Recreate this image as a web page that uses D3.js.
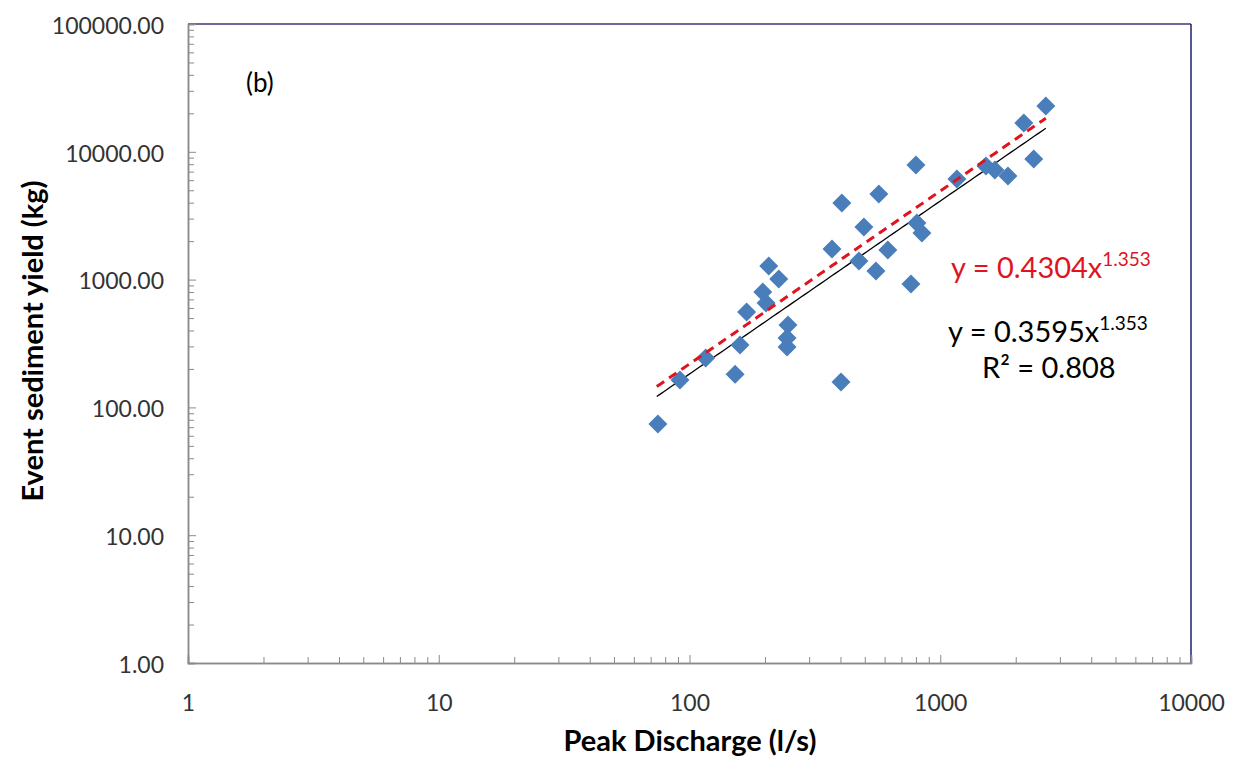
<!DOCTYPE html>
<html><head><meta charset="utf-8">
<script src="https://cdn.jsdelivr.net/npm/d3@7"></script>
<style>body{margin:0;background:#fff}svg{display:block}text{font-family:Lato,"Open Sans",sans-serif}</style>
</head><body><svg id="c" width="1236" height="758"></svg>
<script>
const peakDischarge = [74.8, 91.6, 116, 152, 159, 169, 196, 202, 207, 227, 247, 245, 245, 402, 370, 405, 474, 496, 554, 569, 618, 764, 800, 807, 845, 1165, 1521, 1651, 1862, 2154, 2360, 2636];
const sedimentYield = [74, 164, 244, 182, 308, 557, 800, 656, 1277, 1011, 441, 349, 297, 158, 1735, 3974, 1399, 2581, 1168, 4675, 1705, 924, 7881, 2773, 2316, 6124, 7745, 7203, 6465, 16800, 8788, 22800];
const xTickLabels = ["1", "10", "100", "1000", "10000"];
const yTickLabels = ["1.00", "10.00", "100.00", "1000.00", "10000.00", "100000.00"];
const fitBlack = {a: 0.3595, b: 1.353};
const fitRed = {a: 0.4304, b: 1.353};

const svg = d3.select("#c");
const L = 188, R = 1191, T = 24, B = 663;
const x = d3.scaleLog().domain([1, 10000]).range([L, R]);
const y = d3.scaleLog().domain([1, 100000]).range([B, T]);

// frame top/right
svg.append("line").attr("x1", L).attr("x2", R).attr("y1", T).attr("y2", T).attr("stroke", "#3b3a78").attr("stroke-width", 1.5);
svg.append("line").attr("x1", R).attr("x2", R).attr("y1", T).attr("y2", B).attr("stroke", "#1f1f6a").attr("stroke-width", 1.5);

// x axis ticks
const xMinor = [];
for (let d = 1; d < 10000; d *= 10) for (let k = 2; k <= 9; k++) xMinor.push(d * k);
const xAxisG = svg.append("g").attr("transform", `translate(0,${B})`)
  .call(d3.axisBottom(x).tickValues(xMinor).tickSize(-6).tickFormat(""));
const xMajor = svg.append("g").attr("transform", `translate(0,${B})`)
  .call(d3.axisBottom(x).tickValues(xTickLabels.map(Number)).tickSize(-8).tickPadding(32).tickFormat((d, i) => xTickLabels[i]));
[xAxisG, xMajor].forEach(g => {
  g.select(".domain").attr("stroke", "#8a8a8a").attr("stroke-width", 1.5);
  g.selectAll(".tick line").attr("stroke", "#8a8a8a");
  g.selectAll("text").attr("font-size", 23).attr("fill", "#333");
});

// y axis ticks
const yMinor = [];
for (let d = 1; d < 100000; d *= 10) for (let k = 2; k <= 9; k++) yMinor.push(d * k);
const yAxisG = svg.append("g").attr("transform", `translate(${L},0)`)
  .call(d3.axisLeft(y).tickValues(yMinor).tickSize(-6).tickFormat(""));
const yMajor = svg.append("g").attr("transform", `translate(${L},0)`)
  .call(d3.axisLeft(y).tickValues(yTickLabels.map(Number)).tickSize(-8).tickPadding(24).tickFormat((d, i) => yTickLabels[i]));
[yAxisG, yMajor].forEach(g => {
  g.select(".domain").attr("stroke", "#8a8a8a").attr("stroke-width", 1.5);
  g.selectAll(".tick line").attr("stroke", "#8a8a8a");
  g.selectAll("text").attr("font-size", 23).attr("fill", "#333").attr("dy", "0.4em");
});

// fit lines
const xs = d3.range(0, 101).map(i => Math.pow(10, Math.log10(74) + i / 100 * (Math.log10(2636) - Math.log10(74))));
const line = f => d3.line().x(d => x(d)).y(d => y(f.a * Math.pow(d, f.b)));
svg.append("path").datum(xs).attr("d", line(fitBlack)).attr("fill", "none").attr("stroke", "#000").attr("stroke-width", 1.3);

// points
const data = peakDischarge.map((v, i) => [v, sedimentYield[i]]);
svg.append("g").selectAll("path").data(data).join("path")
  .attr("d", d3.symbol(d3.symbolDiamond2 || d3.symbolSquare, 230))
  .attr("transform", d => `translate(${x(d[0])},${y(d[1])}) rotate(${d3.symbolDiamond2 ? 0 : 45})`)
  .attr("fill", "#4a7ebb");

svg.append("path").datum(xs).attr("d", line(fitRed)).attr("fill", "none").attr("stroke", "#e0141e").attr("stroke-width", 3).attr("stroke-dasharray", "9,6");

// labels
svg.append("text").attr("x", 246).attr("y", 92).attr("font-size", 26).attr("fill", "#000").text("(b)");
const eq1 = svg.append("text").attr("x", 951).attr("y", 278).attr("font-size", 29).attr("fill", "#e0141e");
eq1.append("tspan").text("y = 0.4304x");
eq1.append("tspan").attr("dy", -12).attr("font-size", 19).text("1.353");
const eq2 = svg.append("text").attr("x", 948).attr("y", 342).attr("font-size", 29).attr("fill", "#000");
eq2.append("tspan").text("y = 0.3595x");
eq2.append("tspan").attr("dy", -12).attr("font-size", 19).text("1.353");
svg.append("text").attr("x", 982).attr("y", 378).attr("font-size", 29).attr("fill", "#000").text("R² = 0.808");

svg.append("text").attr("x", 690).attr("y", 751).attr("text-anchor", "middle").attr("font-size", 29).attr("font-weight", "bold").text("Peak Discharge (l/s)");
svg.append("text").attr("transform", "translate(43,341) rotate(-90)").attr("text-anchor", "middle").attr("font-size", 29).attr("font-weight", "bold").text("Event sediment yield (kg)");
</script></body></html>
